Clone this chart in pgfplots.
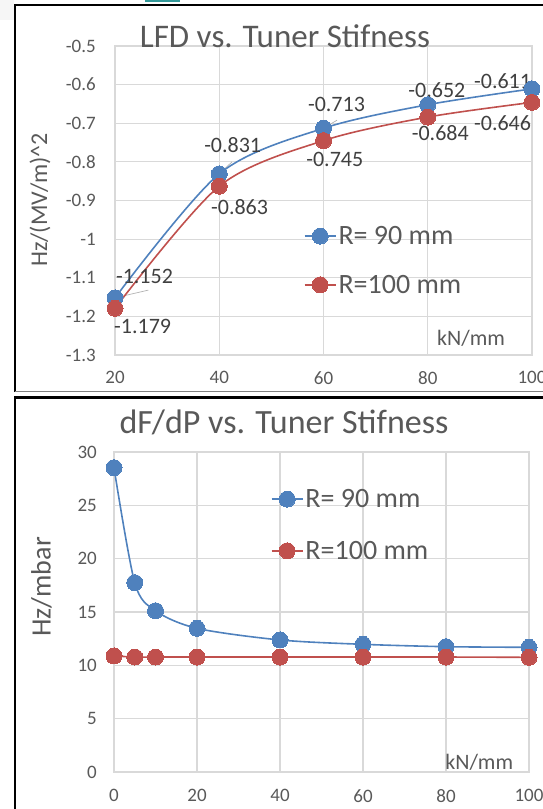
\documentclass[border=0pt]{standalone}
\usepackage{fontspec}
\setmainfont{Carlito}
\usepackage{pgfplots}
\pgfplotsset{compat=1.18}
\definecolor{sblue}{HTML}{4F81BD}
\definecolor{sred}{HTML}{C0504D}
\definecolor{gridc}{HTML}{D9D9D9}
\definecolor{txt}{HTML}{595959}
\definecolor{lbl}{HTML}{404040}
\pgfplotsset{
  excel/.style={
    scale only axis,
    axis line style={draw=gridc, line width=1.2pt},
    grid=major, major grid style={draw=gridc, line width=1.2pt},
    major tick length=0pt,
    tick label style={font=\fontsize{19}{21}\selectfont, text=txt, inner sep=0pt},
    /pgf/number format/assume math mode=true,
    clip=false,
    legend cell align=left,
    legend style={draw=none, fill=none, inner sep=0pt, outer sep=0pt,
      font=\fontsize{28}{30}\selectfont, text=txt, anchor=west,
      nodes={inner sep=2pt}},
    legend image code/.code={\draw[mark repeat=2,mark phase=2,#1] plot coordinates {(0pt,0pt) (15.5pt,0pt) (31pt,0pt)};},
  },
  s90/.style={color=sblue, line width=1.6pt, smooth, mark=*, mark size=8pt, mark options={fill=sblue, draw=sblue, line width=0pt}},
  s100/.style={color=sred, line width=1.6pt, smooth, mark=*, mark size=8pt, mark options={fill=sred, draw=sred, line width=0pt}},
}
\begin{document}
\begin{tikzpicture}[x=1pt,y=1pt]
\path[use as bounding box] (0,0) rectangle (543,-809);
\clip (0,0) rectangle (543,-809);
\fill[gray!7] (0,0) rectangle (14,-20);
\fill[teal!80] (145,0) rectangle (180,-1.5);

% ---------------- top chart ----------------
\begin{axis}[excel, at={(115pt,-355pt)}, anchor=south west,
  width=417pt, height=309pt,
  xmin=20, xmax=100, ymin=-1.3, ymax=-0.5,
  xtick={20,40,60,80,100},
  ytick={-1.3,-1.2,-1.1,-1,-0.9,-0.8,-0.7,-0.6,-0.5},
  x tick label style={yshift=-16pt},
  y tick label style={xshift=-19pt},
  legend style={at={(0.453,0.306)}, row sep=25pt},
]
\draw[gray!60, line width=0.7pt] (axis cs:26.4,-1.132) -- (axis cs:20,-1.152);
\draw[gray!60, line width=0.7pt] (axis cs:42.45,-0.800) -- (axis cs:40,-0.831);
\draw[gray!60, line width=0.7pt] (axis cs:62.6,-0.692) -- (axis cs:60,-0.713);
\addplot[s90, tension=0.5] coordinates {(20,-1.152) (40,-0.831) (60,-0.713) (80,-0.652) (100,-0.611)};
\addlegendentry{R= 90 mm}
\addplot[s100, tension=0.5] coordinates {(20,-1.179) (40,-0.863) (60,-0.745) (80,-0.684) (100,-0.646)};
\addlegendentry{R=100 mm}
\begin{scope}[every node/.style={font=\fontsize{22}{24}\selectfont, text=lbl, inner sep=0pt}]
\node at (axis cs:25.66,-1.0955) {-1.152};
\node at (axis cs:42.58,-0.7563) {-0.831};
\node at (axis cs:62.49,-0.6502) {-0.713};
\node at (axis cs:81.76,-0.6139) {-0.652};
\node at (axis cs:94.36,-0.5906) {-0.611};
\node at (axis cs:25.31,-1.225) {-1.179};
\node at (axis cs:43.90,-0.9168) {-0.863};
\node at (axis cs:62.17,-0.7926) {-0.745};
\node at (axis cs:82.41,-0.7252) {-0.684};
\node at (axis cs:94.36,-0.6994) {-0.646};
\node[text=txt] at (axis cs:88.3,-1.256) {kN/mm};
\end{scope}
\end{axis}
\node[font=\fontsize{33}{36}\selectfont, text=txt, anchor=base] at (285,-47) {LFD vs. Tuner Stifness};
\node[rotate=90, font=\fontsize{24}{26}\selectfont, text=txt] at (40,-200) {Hz/(MV/m)\textasciicircum 2};

% ---------------- bottom chart ----------------
\begin{axis}[excel, at={(114pt,-772pt)}, anchor=south west,
  width=415pt, height=320pt,
  xmin=0, xmax=100, ymin=0, ymax=30,
  xtick={0,20,40,60,80,100},
  ytick={0,5,10,15,20,25,30},
  x tick label style={yshift=-17pt},
  y tick label style={xshift=-17pt},
  legend style={at={(0.378,0.772)}, row sep=28pt},
]
\addplot[s90] coordinates {(0,28.53) (5,17.75) (10,15.12) (20,13.47) (40,12.38) (60,11.97) (80,11.75) (100,11.69)};
\addlegendentry{R= 90 mm}
\addplot[s100] coordinates {(0,10.88) (5,10.78) (10,10.78) (20,10.78) (40,10.78) (60,10.78) (80,10.78) (100,10.75)};
\addlegendentry{R=100 mm}
\node[font=\fontsize{22}{24}\selectfont, text=txt, inner sep=0pt] at (axis cs:88,0.94) {kN/mm};
\end{axis}
\node[font=\fontsize{34}{36}\selectfont, text=txt, anchor=base] at (284,-433) {dF/dP vs. Tuner Stifness};
\node[rotate=90, font=\fontsize{28}{30}\selectfont, text=txt] at (41.5,-587) {Hz/mbar};

% frames
\draw[black, line width=2pt] (15,-392) -- (15,-5) -- (560,-5);
\draw[gray, line width=1pt] (15,-391) -- (560,-391);
\draw[black, line width=2.5pt] (15,-830) -- (15,-397.5) -- (560,-397.5);
\end{tikzpicture}
\end{document}
